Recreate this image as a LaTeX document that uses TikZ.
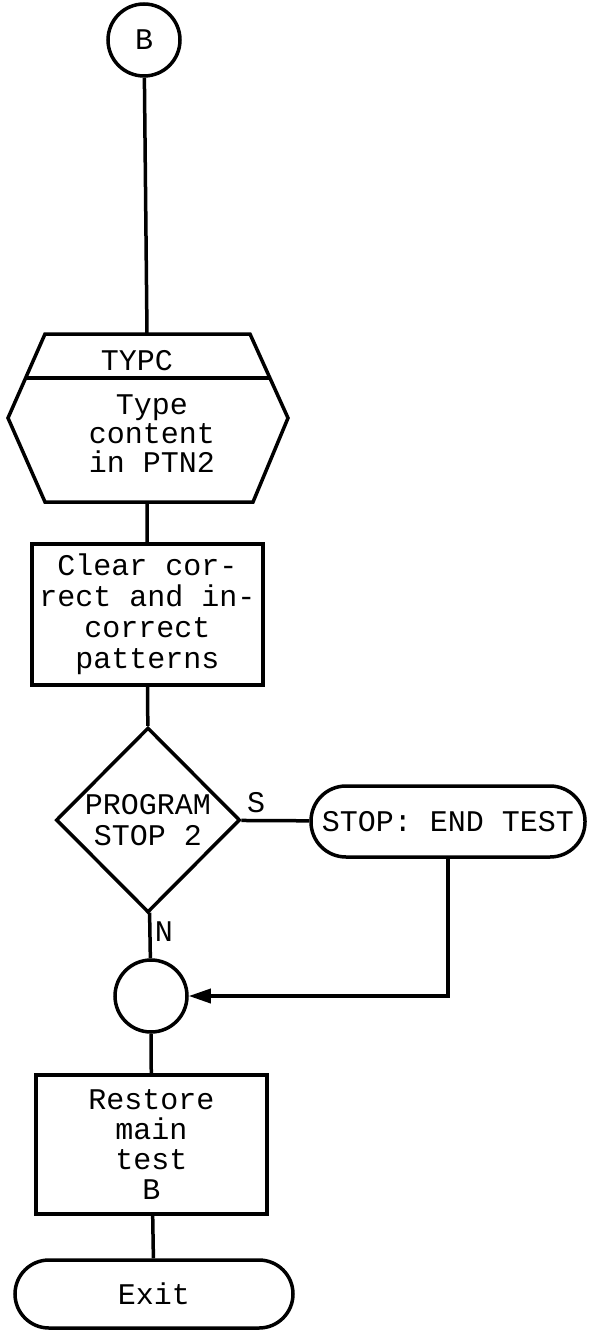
\documentclass[tikz,border=0pt]{standalone}
\usepackage{fontspec}
\setmonofont{Liberation Mono}
\usetikzlibrary{shapes.geometric,arrows.meta,positioning}

\begin{document}
\begin{tikzpicture}[
    x=1pt, y=-1pt,
    line width=3.5pt,
    font=\ttfamily\fontsize{30}{31}\selectfont,
    conn/.style={draw, circle, minimum size=72pt, inner sep=0pt},
    proc/.style={draw, rectangle, minimum width=231pt, align=center, inner sep=0pt},
    term/.style={draw, rectangle, rounded corners=34pt, minimum height=68pt, inner sep=0pt},
    decis/.style={draw, diamond, minimum width=184pt, minimum height=185pt, inner sep=0pt, align=center},
    flow/.style={draw, line width=3.5pt},
    back/.style={->, draw, line width=3.5pt, >={Triangle[length=22pt,width=14pt]}},
]
\useasboundingbox (0,0) rectangle (589,1332);

% Entry connector
\node[conn] (B) at (144,40) {B};

% Hexagon (TYPC)
\coordinate (hexTL) at (45,334);
\coordinate (hexTR) at (250,334);
\coordinate (hexR) at (288,418);
\coordinate (hexBR) at (253,502);
\coordinate (hexBL) at (45,502);
\coordinate (hexL) at (8,418);
\coordinate (hextop) at (147,334);
\coordinate (hexbot) at (147,502);
\coordinate (divL) at (26,378);
\coordinate (divR) at (270,378);
\draw (hexTL) -- (hexTR) -- (hexR) -- (hexBR) -- (hexBL) -- (hexL) -- cycle;
\draw (divL) -- (divR);
\node (typc) at (137,361) {TYPC};
\node[align=center, font=\ttfamily\fontsize{30}{29}\selectfont] (type) at (152,434) {Type\\content\\in PTN2};

% Process boxes and decision
\node[proc, minimum height=141pt] (clear) at (147.5,614.5) {Clear cor-\\rect and in-\\correct\\patterns};
\node[decis] (stop2) at (148,820) {PROGRAM\\STOP 2};
\node[term, minimum width=274pt, minimum height=71pt, rounded corners=35pt] (endtest) at (448,821.5) {STOP: END TEST};
\node[conn] (join) at (151,996) {};
\node[proc, minimum height=139pt, font=\ttfamily\fontsize{30}{30}\selectfont] (restore) at (151.5,1144.5) {Restore\\main\\test\\B};
\node[term, minimum width=278pt] (exit) at (154,1294) {Exit};

% Connectors
\draw[flow] (B) -- (hextop);
\draw[flow] (hexbot) -- (clear);
\draw[flow] (clear) -- (stop2);
\draw[flow] (stop2) -- node[pos=0.22, above=3pt] (s) {S} (endtest);
\draw[flow] (stop2) -- node[pos=0.42, right] (n) {N} (join);
\draw[back] (endtest) |- (join);
\draw[flow] (join) -- (restore);
\draw[flow] (restore) -- (exit);
\end{tikzpicture}
\end{document}
